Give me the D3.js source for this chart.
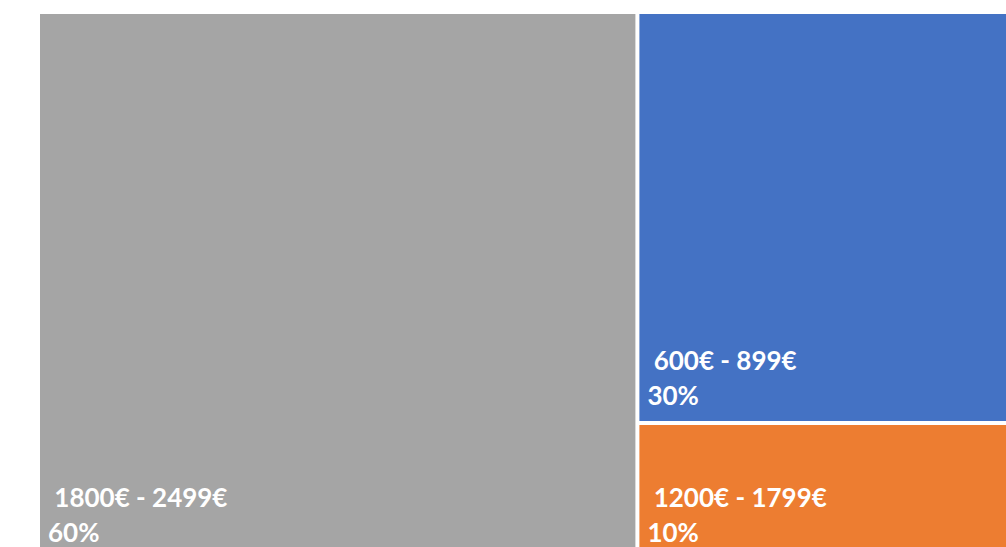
<!DOCTYPE html>
<html>
<head>
<meta charset="utf-8">
<script src="https://cdn.jsdelivr.net/npm/d3@7"></script>
<style>
  body { margin: 0; background: #fff; }
  text { font-family: Lato, "Open Sans", sans-serif; font-weight: 700; fill: #fff; white-space: pre; }
</style>
</head>
<body>
<div id="chart"></div>
<script>
// Price ranges and their share
var categories = ["1800€ - 2499€", "600€ - 899€", "1200€ - 1799€"];
var shares = [60, 30, 10];
var colors = ["#A5A5A5", "#4472C4", "#ED7D31"];

var width = 1006,
	height = 547;

// Plot area (runs past the window edge like the original)
var margin = { top: 14, left: 40 };
var plotW = 995,
	plotH = 544;

var svg = d3.select("#chart")
	.append("svg")
	.attr("width", width)
	.attr("height", height)
	.append("g")
	.attr("transform", "translate(" + margin.left + "," + margin.top + ")");

var data = {
	children: categories.map(function (c, i) {
		return { name: c, value: shares[i], color: colors[i] };
	})
};

var root = d3.hierarchy(data)
	.sum(function (d) { return d.value; })
	.sort(function (a, b) { return b.value - a.value; });

d3.treemap()
	.tile(d3.treemapSquarify)
	.size([plotW, plotH])
	.paddingInner(4)
	(root);

var cell = svg.selectAll("g.cell")
	.data(root.leaves())
	.enter()
	.append("g")
	.attr("class", "cell");

cell.append("rect")
	.attr("x", function (d) { return d.x0; })
	.attr("y", function (d) { return d.y0; })
	.attr("width", function (d) { return d.x1 - d.x0; })
	.attr("height", function (d) { return d.y1 - d.y0; })
	.attr("fill", function (d) { return d.data.color; });

// Category name
cell.append("text")
	.attr("x", function (d) { return d.x0 + 8; })
	.attr("y", function (d) { return d.y1 - 51; })
	.attr("font-size", 26)
	.text(function (d) { return " " + d.data.name; });

// Share
cell.append("text")
	.attr("x", function (d) { return d.x0 + 8; })
	.attr("y", function (d) { return d.y1 - 16; })
	.attr("font-size", 26)
	.text(function (d) { return d.data.value + "%"; });
</script>
</body>
</html>
